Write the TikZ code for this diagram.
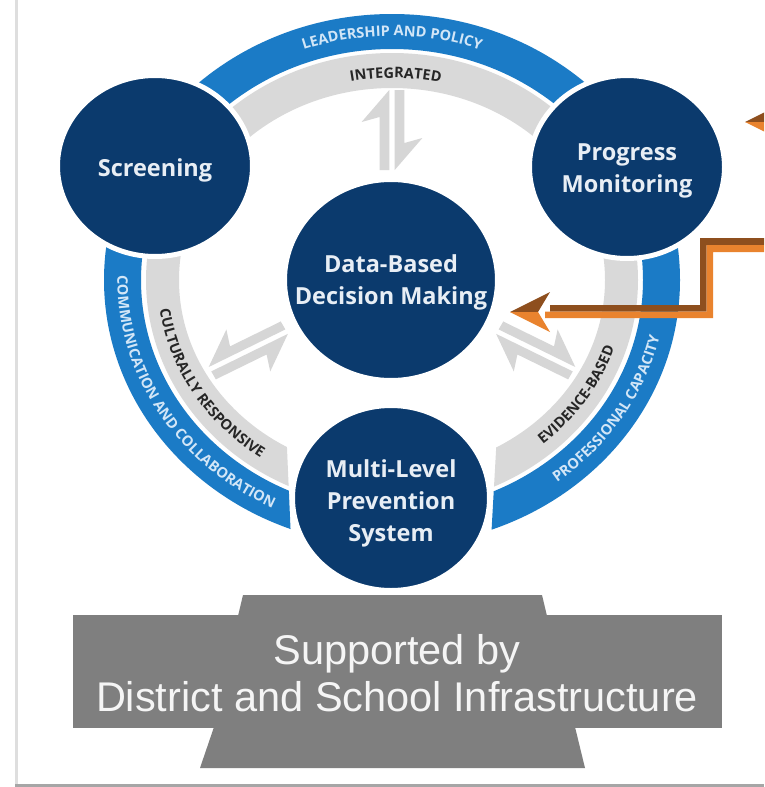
\documentclass[tikz,border=0pt]{standalone}
\usepackage{fontspec}
\setmainfont{Liberation Sans}
\newfontfamily\osans{Open Sans}
\usetikzlibrary{shapes.geometric,decorations.text}
\definecolor{navy}{HTML}{0B3A6D}
\definecolor{ringblue}{HTML}{1B7BC6}
\definecolor{ringgray}{HTML}{D9D9D9}
\definecolor{lbtext}{HTML}{D2E6F7}
\definecolor{gtext}{HTML}{262626}
\definecolor{circtext}{HTML}{E8EEF5}
\definecolor{boxgray}{HTML}{7F7F7F}
\definecolor{orng}{HTML}{E9832E}
\definecolor{brwn}{HTML}{8E4F1E}
\definecolor{arrgray}{HTML}{D6D6D6}
\begin{document}
\begin{tikzpicture}[x=1pt,y=-1pt,
  circ/.style={ellipse, fill=navy, draw=white, line width=5pt, inner sep=0pt},
  circlabel/.style={font=\osans\bfseries\fontsize{23.5}{32}\selectfont, text=circtext, align=center, inner sep=0pt},
  harp/.style={fill=arrgray},
  bluetxt/.style={decorate, decoration={text along path, text align=center, text color=lbtext,
     text={|\osans\bfseries\fontsize{14.5}{15}\selectfont|#1}}},
  graytxt/.style={decorate, decoration={text along path, text align=center, text color=gtext,
     text={|\osans\bfseries\fontsize{14.5}{15}\selectfont|#1}}},
]
\useasboundingbox (0,0) rectangle (764,787);
\fill[white] (0,0) rectangle (764,787);

% frame lines
\fill[black!13] (15,0) rectangle (17.5,787);
\fill[black!35] (15,783.5) rectangle (764,787);

% ring
\begin{scope}[even odd rule]
  \clip (0,0) rectangle (764,787) (284,380) -- (500,380) -- (491,540) -- (491,640) -- (291,640) -- (291,540) -- cycle;
  \fill[ringblue] (392,280) ellipse [x radius=288, y radius=266] (392,280) ellipse [x radius=251, y radius=231];
  \fill[ringgray] (392,280) ellipse [x radius=246, y radius=227] (392,280) ellipse [x radius=213, y radius=192];
\end{scope}

% ring texts
\path[bluetxt=LEADERSHIP AND POLICY] ({392+265*cos(140)},{280-244*sin(140)}) arc[start angle=-140, end angle=-40, x radius=265, y radius=244];
\path[graytxt=INTEGRATED] ({392+222*cos(139)},{280-202*sin(139)}) arc[start angle=-139, end angle=-39, x radius=222, y radius=202];
\path[bluetxt=COMMUNICATION AND COLLABORATION] ({392+274.5*cos(161)},{280-253.5*sin(161)}) arc[start angle=-161, end angle=-261, x radius=274.5, y radius=253.5];
\path[graytxt=CULTURALLY RESPONSIVE] ({392+234.5*cos(161)},{280-214.5*sin(161)}) arc[start angle=-161, end angle=-261, x radius=234.5, y radius=214.5];
\path[graytxt=EVIDENCE-BASED] ({392+234.5*cos(277)},{280-214.5*sin(277)}) arc[start angle=-277, end angle=-377, x radius=234.5, y radius=214.5];
\path[bluetxt=PROFESSIONAL CAPACITY] ({392+274.5*cos(278)},{280-253.5*sin(278)}) arc[start angle=-278, end angle=-378, x radius=274.5, y radius=253.5];

% gray double half-arrows
\begin{scope}[shift={(392,280)}, xscale=1.085]
  \foreach \r/\m in {0/1,118/-1,-118/1} {
    \begin{scope}[rotate=\r, xscale=\m]
      \fill[harp] (-2.5,-110) -- (-2.5,-190) -- (-28,-158) -- (-11.5,-163) -- (-11.5,-110) -- cycle;
      \fill[harp] (2.5,-190) -- (2.5,-110) -- (28,-142) -- (11.5,-137) -- (11.5,-190) -- cycle;
    \end{scope}
  }
\end{scope}

% circles
\node[circ, minimum width=195pt, minimum height=181pt] (scr) at (155,166) {};
\node[circlabel] (scrt) at ([yshift=-4pt]scr.center) {Screening};
\node[circ, minimum width=195pt, minimum height=183pt] (pm) at (627,167) {};
\node[circlabel] (pmt) at ([yshift=-4pt]pm.center) {Progress\\Monitoring};
\node[circ, minimum width=213pt, minimum height=201pt] (dbdm) at (391,280) {};
\node[circlabel] (dbdmt) at ([yshift=-2pt]dbdm.center) {Data-Based\\Decision Making};
\node[circ, minimum width=197pt, minimum height=185pt] (mlps) at (391,498) {};
\node[circlabel] (mlpst) at ([yshift=-5pt]mlps.center) {Multi-Level\\Prevention\\System};

% orange arrows
\begin{scope}
  \clip (0,0) rectangle (764,787);
  \coordinate (tiptop) at (745,122);
  \fill[brwn] (tiptop) -- (785,102) -- (773,122) -- cycle;
  \fill[orng] (tiptop) -- (773,122) -- (785,142) -- cycle;
  \coordinate (tipdb) at (510,312);
  \fill[brwn] (770,238) -- (700,238) -- (700,305) -- (550,305) -- (550,311.5) -- (706.5,311.5) -- (706.5,245) -- (770,245) -- cycle;
  \fill[orng] (770,245) -- (706.5,245) -- (706.5,311.5) -- (545,311.5) -- (545,318) -- (713,318) -- (713,252) -- (770,252) -- cycle;
  \fill[brwn] (tipdb) -- (550,292) -- (538,312) -- cycle;
  \fill[orng] (tipdb) -- (538,312) -- (550,332) -- cycle;
\end{scope}

% infrastructure base
\fill[boxgray] (243,595) -- (542,595) -- (547,616) -- (238,616) -- cycle;
\fill[boxgray] (73,615) rectangle (722,728);
\fill[boxgray] (214,727) -- (575,727) -- (585,768) -- (200,768) -- cycle;
\node[font=\fontsize{41.5}{47}\selectfont, text=white!96!black, align=center, inner sep=0pt] (infra) at (397,673) {Supported by\\District and School Infrastructure};
\end{tikzpicture}
\end{document}
